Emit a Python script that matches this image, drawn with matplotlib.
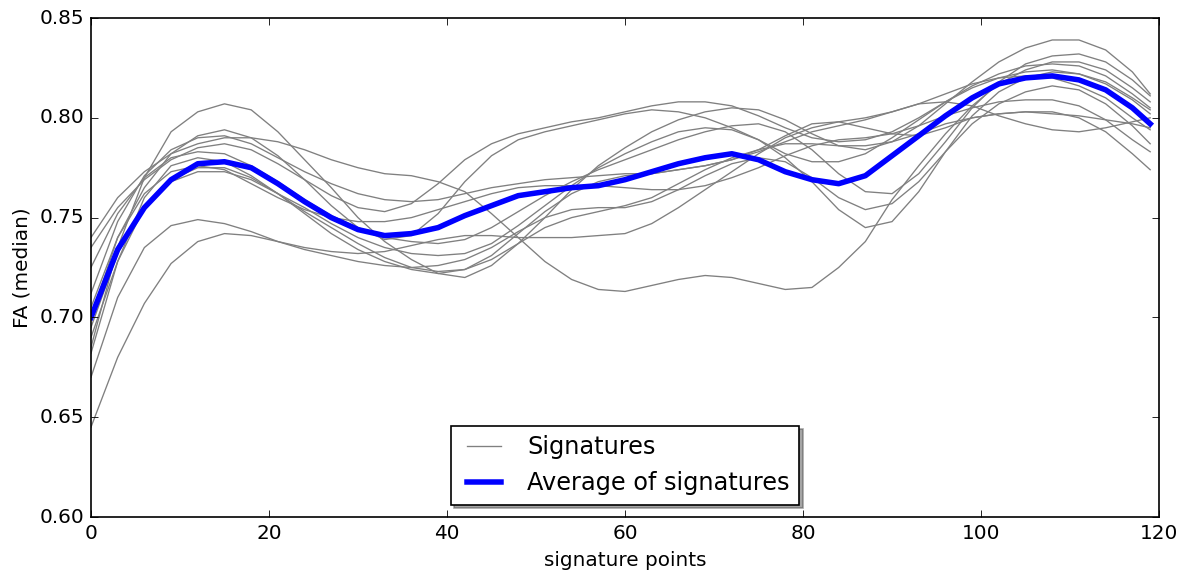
# FA signatures along a tract, with their average

import matplotlib
matplotlib.use('Agg')
import matplotlib.pyplot as plt

points = [0, 3, 6, 9, 12, 15, 18, 21, 24, 27, 30, 33, 36, 39, 42, 45, 48, 51, 54, 57,
          60, 63, 66, 69, 72, 75, 78, 81, 84, 87, 90, 93, 96, 99, 102, 105, 108, 111, 114, 117, 119]

sig_01 = [0.740, 0.760, 0.773, 0.782, 0.787, 0.790, 0.790, 0.788, 0.784, 0.779, 0.775, 0.772, 0.771, 0.768, 0.763, 0.752, 0.740, 0.728, 0.719, 0.714,
          0.713, 0.716, 0.719, 0.721, 0.720, 0.717, 0.714, 0.715, 0.725, 0.738, 0.759, 0.776, 0.792, 0.806, 0.817, 0.824, 0.828, 0.828, 0.824, 0.815, 0.808]
sig_02 = [0.685, 0.735, 0.770, 0.793, 0.803, 0.807, 0.804, 0.793, 0.779, 0.765, 0.750, 0.738, 0.729, 0.722, 0.720, 0.726, 0.737, 0.750, 0.764, 0.776,
          0.785, 0.793, 0.799, 0.803, 0.805, 0.804, 0.799, 0.792, 0.786, 0.784, 0.788, 0.796, 0.807, 0.818, 0.828, 0.835, 0.839, 0.839, 0.834, 0.823, 0.812]
sig_03 = [0.735, 0.755, 0.769, 0.779, 0.785, 0.787, 0.784, 0.777, 0.769, 0.761, 0.755, 0.753, 0.757, 0.767, 0.779, 0.787, 0.792, 0.795, 0.798, 0.800,
          0.803, 0.806, 0.808, 0.808, 0.806, 0.801, 0.795, 0.790, 0.788, 0.789, 0.793, 0.800, 0.808, 0.816, 0.822, 0.826, 0.827, 0.826, 0.821, 0.812, 0.805]
sig_04 = [0.700, 0.740, 0.765, 0.782, 0.791, 0.794, 0.790, 0.781, 0.769, 0.756, 0.745, 0.739, 0.741, 0.752, 0.768, 0.781, 0.789, 0.793, 0.796, 0.799,
          0.802, 0.804, 0.803, 0.800, 0.795, 0.789, 0.782, 0.778, 0.778, 0.782, 0.790, 0.799, 0.808, 0.815, 0.820, 0.823, 0.824, 0.822, 0.817, 0.809, 0.802]
sig_05 = [0.645, 0.680, 0.707, 0.727, 0.738, 0.742, 0.741, 0.738, 0.735, 0.733, 0.732, 0.733, 0.736, 0.739, 0.741, 0.741, 0.740, 0.740, 0.740, 0.741,
          0.742, 0.747, 0.755, 0.764, 0.773, 0.782, 0.790, 0.795, 0.798, 0.800, 0.803, 0.807, 0.812, 0.817, 0.820, 0.821, 0.820, 0.816, 0.810, 0.800, 0.794]
sig_06 = [0.670, 0.710, 0.735, 0.746, 0.749, 0.747, 0.743, 0.738, 0.734, 0.731, 0.728, 0.726, 0.725, 0.726, 0.729, 0.735, 0.743, 0.750, 0.754, 0.755,
          0.755, 0.758, 0.764, 0.771, 0.777, 0.780, 0.778, 0.770, 0.760, 0.754, 0.757, 0.768, 0.783, 0.797, 0.807, 0.813, 0.816, 0.814, 0.807, 0.796, 0.787]
sig_07 = [0.682, 0.728, 0.760, 0.776, 0.780, 0.778, 0.771, 0.762, 0.752, 0.742, 0.734, 0.728, 0.724, 0.722, 0.724, 0.731, 0.742, 0.753, 0.762, 0.768,
          0.771, 0.772, 0.774, 0.776, 0.779, 0.784, 0.791, 0.797, 0.798, 0.795, 0.792, 0.791, 0.795, 0.800, 0.802, 0.803, 0.802, 0.801, 0.799, 0.797, 0.795]
sig_08 = [0.712, 0.748, 0.771, 0.784, 0.790, 0.791, 0.787, 0.780, 0.773, 0.767, 0.762, 0.759, 0.758, 0.759, 0.762, 0.765, 0.767, 0.769, 0.770, 0.771,
          0.772, 0.772, 0.774, 0.776, 0.779, 0.783, 0.788, 0.793, 0.796, 0.799, 0.803, 0.807, 0.808, 0.806, 0.801, 0.797, 0.794, 0.793, 0.795, 0.798, 0.800]
sig_09 = [0.705, 0.740, 0.762, 0.773, 0.776, 0.774, 0.767, 0.760, 0.754, 0.750, 0.748, 0.748, 0.750, 0.754, 0.758, 0.762, 0.765, 0.766, 0.766, 0.766,
          0.765, 0.764, 0.764, 0.766, 0.770, 0.775, 0.781, 0.786, 0.789, 0.790, 0.792, 0.796, 0.801, 0.805, 0.808, 0.809, 0.809, 0.806, 0.799, 0.789, 0.783]
sig_10 = [0.690, 0.728, 0.755, 0.769, 0.775, 0.775, 0.770, 0.762, 0.753, 0.745, 0.737, 0.730, 0.725, 0.723, 0.724, 0.729, 0.737, 0.745, 0.750, 0.753,
          0.756, 0.760, 0.767, 0.774, 0.780, 0.784, 0.787, 0.787, 0.786, 0.786, 0.788, 0.792, 0.797, 0.800, 0.802, 0.803, 0.803, 0.800, 0.793, 0.782, 0.774]
sig_11 = [0.725, 0.752, 0.770, 0.780, 0.783, 0.782, 0.776, 0.768, 0.759, 0.751, 0.745, 0.740, 0.738, 0.737, 0.739, 0.745, 0.753, 0.761, 0.768, 0.774,
          0.779, 0.784, 0.789, 0.793, 0.796, 0.797, 0.793, 0.784, 0.772, 0.763, 0.762, 0.772, 0.788, 0.805, 0.818, 0.827, 0.831, 0.832, 0.828, 0.819, 0.811]
sig_12 = [0.695, 0.732, 0.756, 0.768, 0.773, 0.773, 0.769, 0.762, 0.755, 0.747, 0.740, 0.735, 0.732, 0.731, 0.732, 0.737, 0.746, 0.756, 0.766, 0.775,
          0.782, 0.788, 0.793, 0.795, 0.794, 0.789, 0.780, 0.768, 0.754, 0.745, 0.748, 0.763, 0.783, 0.801, 0.813, 0.820, 0.823, 0.822, 0.818, 0.810, 0.804]

signatures = [sig_01, sig_02, sig_03, sig_04, sig_05, sig_06,
              sig_07, sig_08, sig_09, sig_10, sig_11, sig_12]

# average curve as drawn in the chart
average = [0.700, 0.734, 0.755, 0.769, 0.777, 0.778, 0.775, 0.767, 0.758, 0.750, 0.744, 0.741, 0.742, 0.745, 0.751, 0.756, 0.761, 0.763, 0.765, 0.766,
           0.769, 0.773, 0.777, 0.780, 0.782, 0.779, 0.773, 0.769, 0.767, 0.771, 0.781, 0.791, 0.801, 0.810, 0.817, 0.820, 0.821, 0.819, 0.814, 0.805, 0.797]

# --- Plot ---
plt.style.use('classic')
fig = plt.figure(figsize=(1186 / 120, 574 / 120), dpi=120, facecolor='white')
ax = fig.add_axes([0.0767, 0.0993, 0.9006, 0.8693])

for i, sig in enumerate(signatures):
    ax.plot(points, sig, color='gray', linewidth=0.8,
            label='Signatures' if i == 0 else None)
ax.plot(points, average, color='blue', linewidth=3.3, label='Average of signatures')

ax.set_xlim(0, 120)
ax.set_ylim(0.60, 0.85)
ax.set_xticks([0, 20, 40, 60, 80, 100, 120])
ax.set_yticks([0.60, 0.65, 0.70, 0.75, 0.80, 0.85])
ax.set_yticklabels(['0.60', '0.65', '0.70', '0.75', '0.80', '0.85'])
ax.set_xlabel('signature points')
ax.set_ylabel('FA (median)')

ax.legend(loc='lower center', shadow=True, fancybox=False)

fig.savefig('out.png', dpi=120, facecolor='white')
